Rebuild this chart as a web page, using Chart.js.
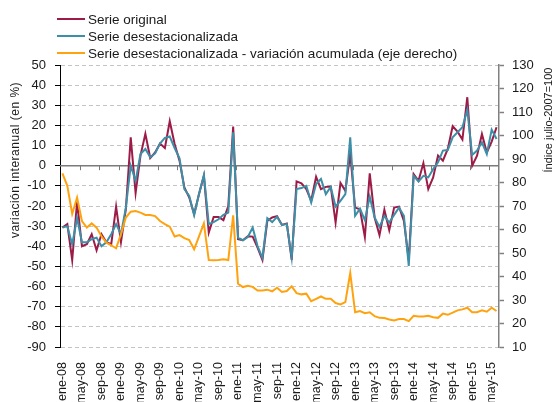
<!DOCTYPE html>
<html>
<head>
<meta charset="utf-8">
<script src="https://cdn.jsdelivr.net/npm/chart.js@4.4.1/dist/chart.umd.min.js"></script>
<style>
  html, body { margin: 0; padding: 0; background: #fff; }
  #wrap { position: relative; width: 556px; height: 402px; font-family: "Liberation Sans", Arial, sans-serif; }
  #c { position: absolute; left: 0; top: 0; }
  .leg { position: absolute; left: 57px; height: 16px; display: flex; align-items: center; font-size: 13.5px; color: #1a1a1a; white-space: nowrap; }
  .leg i { display: inline-block; width: 28px; height: 2px; margin-right: 3px; }
</style>
</head>
<body>
<div id="wrap">
  <canvas id="c" width="556" height="402"></canvas>
  <div class="leg" style="top:11px"><i style="background:#9C1C47"></i>Serie original</div>
  <div class="leg" style="top:28px"><i style="background:#3D8FA8"></i>Serie desestacionalizada</div>
  <div class="leg" style="top:45px"><i style="background:#FFA20F"></i>Serie desestacionalizada - variación acumulada (eje derecho)</div>
</div>
<script>
// ---- data ----
const monthNames = ['ene','feb','mar','abr','may','jun','jul','ago','sep','oct','nov','dic'];
const years = ['08','09','10','11','12','13','14','15'];
const categories = [];
for (const yy of years) for (const m of monthNames) categories.push(m + '-' + yy);
categories.length = 90; // ene-08 .. jun-15

const serieOriginal = [
  -30.7, -29, -46.8, -18, -40, -39, -34, -42, -34, -38, -39, -20.3,
  -38, -21.6, 14.1, -13.6, 5, 15.8, 3.8, 6.6, 11, 8.8, 22.1, 10.8,
  2.5, -10.8, -15.8, -24, -14, -5, -33.2, -25.4, -25.4, -27, -20, 19.4,
  -36.5, -37, -35, -35.2, -40.7, -46.8, -27.4, -25.7, -25, -29.4, -28.7, -46.8,
  -7.8, -8.8, -11.6, -17.4, -5.5, -11.6, -10.5, -10.3, -28.2, -8.6, -12.5, 6,
  -20.8, -21.6, -35.4, -3.8, -25.7, -34.5, -21.9, -32, -20.8, -20.3, -27.4, -46.8,
  -4.2, -7.5, 1.3, -11.6, -5.8, 5, 2.5, 8.3, 19.6, 16.9, 13, 34,
  0, 5, 15.8, 6.6, 12, 19.1
];
const serieDesest = [
  -30.7, -30, -39, -26, -38, -38, -36.5, -35.7, -40, -38, -34, -29,
  -34, -20.8, 0, -7.5, 5.8, 8.3, 4.2, 6.1, 11, 13.8, 14.5, 8.8,
  3.7, -11.6, -15, -24.6, -14, -4.6, -29, -28, -26.6, -24.4, -23.3, 16.6,
  -35.7, -37, -35.4, -30.7, -39.9, -45.7, -26, -28, -25.4, -29.4, -29, -45.7,
  -11.6, -11.1, -10, -18.3, -9.1, -6.6, -14.1, -10.5, -20.3, -17.4, -14.1, 14.1,
  -24.9, -21.3, -27, -15.4, -25.7, -30.4, -24.9, -28.2, -24.4, -20.8, -24.9, -49.8,
  -5, -7.8, -5, -5.8, -1.7, 1.7, 7.5, 7.8, 14.1, 16.6, 19.1, 27.7,
  5.3, 7.5, 11.6, 5.8, 17.9, 13.3
];
const indiceAcumulado = [
  83.9, 78.6, 66.6, 73.6, 63.6, 60.8, 62.6, 60.8, 57.1, 54.4, 53.3, 52.0,
  58.0, 65.1, 67.6, 67.9, 67.2, 66.2, 66.2, 65.7, 63.6, 62.3, 61.2, 57.0,
  57.6, 56.3, 55.5, 51.6, 57.1, 62.6, 47.0, 46.9, 47.0, 47.3, 47.0, 66.0,
  36.9, 35.5, 36.1, 35.6, 34.0, 34.0, 34.4, 33.7, 35.2, 33.4, 33.8, 35.8,
  32.9, 32.4, 32.7, 29.5, 30.5, 31.5, 30.5, 30.5, 28.7, 28.1, 29.1, 41.5,
  24.8, 25.3, 24.4, 24.8, 23.1, 22.4, 22.3, 21.7, 21.3, 21.9, 21.9, 21.0,
  23.3, 23.0, 23.0, 23.3, 22.7, 22.4, 24.2, 23.7, 24.6, 25.6, 26.0, 26.7,
  24.8, 24.8, 25.6, 25.0, 26.7, 25.3
];
const leftTicks = { min: -90, max: 50, step: 10 };
const rightTicks = { min: 10, max: 130, step: 10 };
const leftTitle = 'variación interanual (en %)';
const rightTitle = 'Índice julio-2007=100';

// ---- chart ----
Chart.defaults.font.family = '"Liberation Sans", Arial, sans-serif';
Chart.defaults.color = '#1a1a1a';

const overlay = {
  id: 'overlay',
  beforeDatasetsDraw(chart) {
    const { ctx, chartArea, scales: { x, y } } = chart;
    const y0 = y.getPixelForValue(0);
    ctx.save();
    ctx.strokeStyle = '#7a7a7a';
    ctx.lineWidth = 1.5;
    ctx.beginPath();
    ctx.moveTo(chartArea.left, y0);
    ctx.lineTo(chartArea.right, y0);
    ctx.stroke();
    const step = x.getPixelForValue(1) - x.getPixelForValue(0);
    ctx.lineWidth = 1;
    ctx.beginPath();
    for (let i = 4; i < categories.length; i += 4) {
      const px = Math.round(x.getPixelForValue(i) - step / 2) + 0.5;
      ctx.moveTo(px, y0);
      ctx.lineTo(px, y0 + 4.5);
    }
    ctx.stroke();
    ctx.restore();
  },
  afterDraw(chart) {
    const { ctx } = chart;
    ctx.save();
    ctx.fillStyle = '#1a1a1a';
    ctx.font = '12px "Liberation Sans", Arial, sans-serif';
    try { ctx.letterSpacing = '0.5px'; } catch (e) {}
    ctx.textAlign = 'center';
    ctx.textBaseline = 'middle';
    ctx.translate(16, 160);
    ctx.rotate(-Math.PI / 2);
    ctx.fillText(leftTitle, 0, 0);
    ctx.restore();
    ctx.save();
    ctx.fillStyle = '#1a1a1a';
    ctx.font = '11px "Liberation Sans", Arial, sans-serif';
    ctx.textAlign = 'center';
    ctx.textBaseline = 'middle';
    ctx.translate(549, 120);
    ctx.rotate(-Math.PI / 2);
    ctx.fillText(rightTitle, 0, 0);
    ctx.restore();
  }
};

new Chart(document.getElementById('c'), {
  type: 'line',
  data: {
    labels: categories,
    datasets: [
      { label: 'Serie desestacionalizada - variación acumulada (eje derecho)', data: indiceAcumulado, yAxisID: 'y2',
        borderColor: '#FFA20F', borderWidth: 2, order: 0 },
      { label: 'Serie desestacionalizada', data: serieDesest, yAxisID: 'y',
        borderColor: '#3D8FA8', borderWidth: 2, order: 1 },
      { label: 'Serie original', data: serieOriginal, yAxisID: 'y',
        borderColor: '#9C1C47', borderWidth: 2, order: 2 }
    ]
  },
  options: {
    responsive: false,
    animation: false,
    devicePixelRatio: 1,
    layout: { padding: { top: 65, left: 0, right: 0, bottom: 0 } },
    elements: { point: { radius: 0 }, line: { tension: 0, fill: false } },
    plugins: { legend: { display: false }, tooltip: { enabled: false } },
    scales: {
      x: {
        type: 'category',
        offset: true,
        grid: { display: false },
        border: { display: false },
        ticks: {
          autoSkip: false, maxRotation: 90, minRotation: 90, padding: 7,
          font: { size: 12.5 }, color: '#1a1a1a',
          callback: (v, i) => (i % 4 === 0 ? categories[i] : '')
        },
        afterFit: s => { s.height = 55; }
      },
      y: {
        position: 'left',
        min: leftTicks.min, max: leftTicks.max,
        ticks: { stepSize: leftTicks.step, padding: 9, font: { size: 13 }, color: '#1a1a1a' },
        grid: { color: '#c4c4c4', lineWidth: 1, tickColor: '#000', tickLength: 5, tickWidth: 1 },
        border: { color: '#000', width: 1, dash: [4, 3] },
        afterFit: s => { s.width = 60; }
      },
      y2: {
        position: 'right',
        min: rightTicks.min, max: rightTicks.max,
        ticks: { stepSize: rightTicks.step, padding: 8, font: { size: 13 }, color: '#1a1a1a' },
        grid: { drawOnChartArea: false, tickColor: '#808080', tickLength: 5, tickWidth: 1.5 },
        border: { color: '#808080', width: 1.5 },
        afterFit: s => { s.width = 57; }
      }
    }
  },
  plugins: [overlay]
});
</script>
</body>
</html>
